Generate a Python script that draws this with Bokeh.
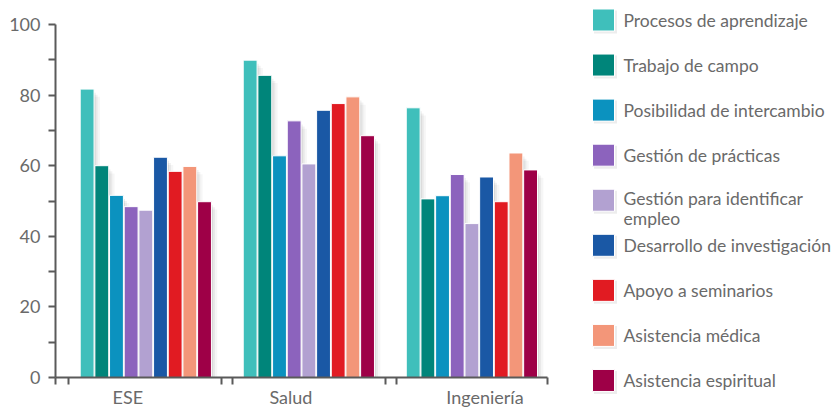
from bokeh.plotting import figure
from bokeh.models import Range1d, FixedTicker, ColumnDataSource
from bokeh.layouts import row
from bokeh.embed import file_html
from bokeh.resources import INLINE
from bokeh.core.properties import value

# ---------------- data ----------------
groups = ["ESE", "Salud", "Ingeniería"]
series = [
    "Procesos de aprendizaje",
    "Trabajo de campo",
    "Posibilidad de intercambio",
    "Gestión de prácticas",
    "Gestión para identificar\nempleo",
    "Desarrollo de investigación",
    "Apoyo a seminarios",
    "Asistencia médica",
    "Asistencia espiritual",
]
colors = ["#3FBFBB", "#00857A", "#0B92BF", "#8C63BD", "#B2A1D1",
          "#1A58A5", "#E11B22", "#F39679", "#9E0047"]
ese = [81.7, 60.0, 51.6, 48.4, 47.4, 62.4, 58.4, 59.8, 49.8]
salud = [89.9, 85.6, 62.8, 72.7, 60.5, 75.7, 77.6, 79.5, 68.5]
ingenieria = [76.4, 50.6, 51.5, 57.5, 43.6, 56.8, 49.8, 63.6, 58.8]
y_ticks = [0, 20, 40, 60, 80, 100]
y_minor = [10, 30, 50, 70, 90]

# ---------------- layout / style ----------------
FONT = "Lato"
TXT = "#6a6a6a"
AX = "#5a5a5a"
PITCH = 0.09
BARW = 0.085
label_shift = [-0.11, -0.11, 0.08]
boundary_ticks = [-0.554, -0.476, 0.466, 0.530, 1.470, 1.536, 2.462]
shadow_layers = [(0.010, 1.0, 0.07), (0.022, 1.6, 0.05), (0.036, 2.2, 0.035)]

xs, tops, cols = [], [], []
for g, vals in enumerate([ese, salud, ingenieria]):
    for j, v in enumerate(vals):
        xs.append(g + (j - (len(vals) - 1) / 2) * PITCH)
        tops.append(v)
        cols.append(colors[j])
src = ColumnDataSource(dict(x=xs, top=tops, color=cols))

p = figure(width=563, height=410, output_backend="svg", toolbar_location=None,
           x_range=Range1d(-0.554, 2.4638), y_range=Range1d(0, 100),
           min_border_left=55, min_border_right=16, min_border_top=24,
           min_border_bottom=33)
p.outline_line_color = None
p.xgrid.visible = False
p.ygrid.visible = False
p.frame_align = False

# soft drop shadow behind the bars
for dx, dt, a in shadow_layers:
    ssrc = ColumnDataSource(dict(x=[x + dx for x in xs], top=[t - dt for t in tops]))
    p.vbar(x="x", top="top", width=BARW, fill_color="black", fill_alpha=a,
           line_color=None, source=ssrc)

p.vbar(x="x", top="top", width=BARW, fill_color="color", line_color="white",
       line_width=1, source=src)

label_pos = [g + s for g, s in zip(range(len(groups)), label_shift)]
p.xaxis.ticker = FixedTicker(ticks=label_pos, minor_ticks=boundary_ticks)
p.xaxis.major_label_overrides = {pos: name for pos, name in zip(label_pos, groups)}
p.xaxis.major_tick_out = 0
p.xaxis.major_tick_in = 0
p.xaxis.minor_tick_out = 7
p.xaxis.minor_tick_in = 0
p.xaxis.major_label_standoff = 1

p.yaxis.ticker = FixedTicker(ticks=y_ticks, minor_ticks=y_minor)
p.yaxis.major_tick_out = 7
p.yaxis.major_tick_in = 0
p.yaxis.minor_tick_out = 7
p.yaxis.minor_tick_in = 0
p.yaxis.major_label_standoff = 8

for ax in (p.xaxis, p.yaxis):
    ax.axis_line_color = AX
    ax.axis_line_width = 2
    ax.major_tick_line_color = AX
    ax.major_tick_line_width = 2
    ax.minor_tick_line_color = AX
    ax.minor_tick_line_width = 2
    ax.major_label_text_font = FONT
    ax.major_label_text_font_size = "18px"
    ax.major_label_text_color = TXT

# ---------------- legend (separate panel) ----------------
LW, LH = 272, 410
ROW = 45.06
Y0 = 19.5
LINE_PX = 16.5
leg_y = [Y0 + i * ROW for i in range(len(series))]
leg_ty = [y + (s.count("\n")) * LINE_PX / 2 for y, s in zip(leg_y, series)]
lsrc = ColumnDataSource(dict(y=leg_y, ty=leg_ty, color=colors, label=series,
                             sy=[y + 2 for y in leg_y]))

leg = figure(width=LW, height=LH, output_backend="svg", toolbar_location=None,
             x_range=Range1d(0, LW), y_range=Range1d(LH, 0),
             x_axis_type=None, y_axis_type=None, min_border=0)
leg.outline_line_color = None
leg.grid.visible = False
leg.frame_align = False
leg.rect(x=42, y="sy", width=23, height=23, fill_color="black", fill_alpha=0.07,
         line_color=None, source=lsrc)
leg.rect(x=40, y="y", width=22, height=22, fill_color="color",
         line_color="white", line_width=1, source=lsrc)
leg.text(x=60, y="ty", text="label", source=lsrc, text_font=value(FONT),
         text_font_size="17.5px", text_color=TXT, text_baseline="middle",
         text_align="left", text_line_height=0.95)

layout = row(p, leg)
open("out.html", "w").write(file_html(layout, INLINE))
